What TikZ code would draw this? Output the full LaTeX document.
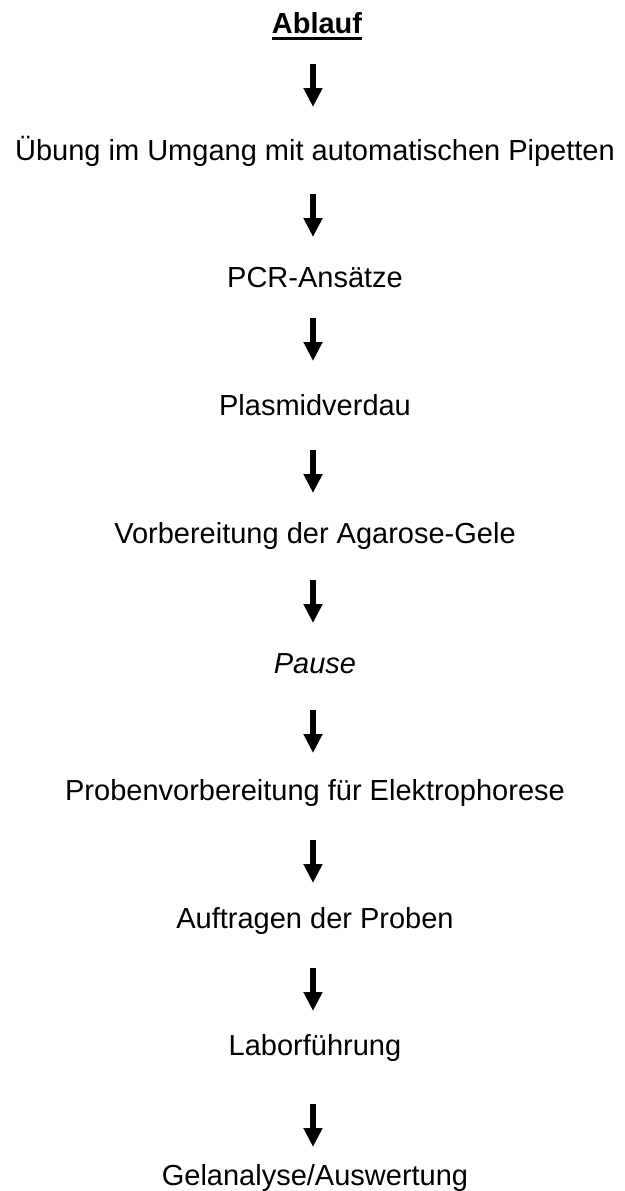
\documentclass[tikz,border=0pt]{standalone}
\usepackage{fontspec}
\setmainfont{Liberation Sans}
\usetikzlibrary{arrows.meta}
\tikzset{
  steptext/.style={anchor=base, inner sep=0pt, outer sep=0pt, font=\fontsize{29}{35}\selectfont},
  flowarrow/.style={line width=6pt, -{Triangle[length=19pt,width=18pt]}},
  underl/.style={line width=3pt}
}
\begin{document}
\begin{tikzpicture}[x=1pt,y=-1pt]
\useasboundingbox (0,0) rectangle (624,1191);
\clip (0,0) rectangle (624,1191);
\node[steptext, font=\fontsize{29}{35}\selectfont\bfseries] (t0) at (317,33.3) {Ablauf};
\draw[underl] ([yshift=-5pt]t0.base west) -- ([yshift=-5pt]t0.base east);
\node[steptext] (t1) at (315,160) {Übung im Umgang mit automatischen Pipetten};
\node[steptext] (t2) at (315,287) {PCR-Ansätze};
\node[steptext] (t3) at (315,415) {Plasmidverdau};
\node[steptext] (t4) at (315,543) {Vorbereitung der Agarose-Gele};
\node[steptext, font=\fontsize{29}{35}\selectfont\itshape] (t5) at (315,673) {Pause};
\node[steptext] (t6) at (315,800) {Probenvorbereitung für Elektrophorese};
\node[steptext] (t7) at (315,928) {Auftragen der Proben};
\node[steptext] (t8) at (315,1055) {Laborführung};
\node[steptext] (t9) at (315,1185) {Gelanalyse/Auswertung};
\coordinate (a1s) at (313,64);   \coordinate (a1e) at (313,107);
\coordinate (a2s) at (313,194);  \coordinate (a2e) at (313,237);
\coordinate (a3s) at (313,318);  \coordinate (a3e) at (313,361);
\coordinate (a4s) at (313,450);  \coordinate (a4e) at (313,493);
\coordinate (a5s) at (313,580);  \coordinate (a5e) at (313,623);
\coordinate (a6s) at (313,710);  \coordinate (a6e) at (313,753);
\coordinate (a7s) at (313,840);  \coordinate (a7e) at (313,883);
\coordinate (a8s) at (313,968);  \coordinate (a8e) at (313,1011);
\coordinate (a9s) at (313,1104); \coordinate (a9e) at (313,1147);
\foreach \i in {1,...,9} { \draw[flowarrow] (a\i s) -- (a\i e); }
\end{tikzpicture}
\end{document}
